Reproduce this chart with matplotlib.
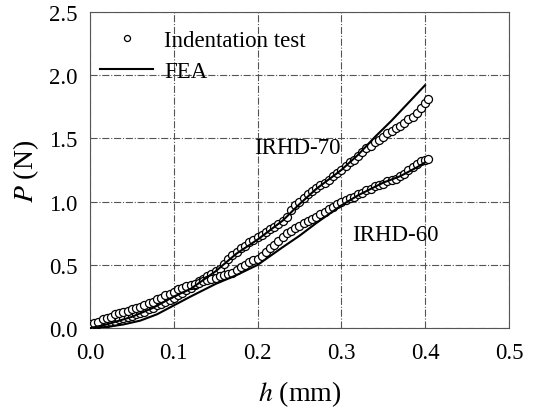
import numpy as np
import matplotlib
matplotlib.use('Agg')
import matplotlib.pyplot as plt

plt.rcParams['font.family'] = ['Liberation Serif', 'DejaVu Serif']
plt.rcParams['mathtext.fontset'] = 'stix'

# Indentation test data (h in mm, P in N)
h_exp = [0.000, 0.005, 0.010, 0.015, 0.020, 0.025, 0.030, 0.035, 0.040, 0.045,
         0.050, 0.055, 0.060, 0.065, 0.070, 0.075, 0.080, 0.085, 0.090, 0.095,
         0.100, 0.105, 0.110, 0.115, 0.120, 0.125, 0.130, 0.135, 0.140, 0.145,
         0.150, 0.155, 0.160, 0.165, 0.170, 0.175, 0.180, 0.185, 0.190, 0.195,
         0.200, 0.205, 0.210, 0.215, 0.220, 0.225, 0.230, 0.235, 0.240, 0.245,
         0.250, 0.255, 0.260, 0.265, 0.270, 0.275, 0.280, 0.285, 0.290, 0.295,
         0.300, 0.305, 0.310, 0.315, 0.320, 0.325, 0.330, 0.335, 0.340, 0.345,
         0.350, 0.355, 0.360, 0.365, 0.370, 0.375, 0.380, 0.385, 0.390, 0.395,
         0.400, 0.403]
p_exp_70 = [0.02, 0.03, 0.035, 0.04, 0.045, 0.05, 0.06, 0.07, 0.08, 0.09,
            0.10, 0.11, 0.12, 0.13, 0.15, 0.16, 0.18, 0.19, 0.21, 0.22,
            0.24, 0.26, 0.28, 0.30, 0.32, 0.34, 0.37, 0.39, 0.41, 0.43,
            0.45, 0.47, 0.51, 0.55, 0.58, 0.60, 0.63, 0.65, 0.68, 0.70,
            0.72, 0.74, 0.76, 0.78, 0.80, 0.82, 0.85, 0.88, 0.93, 0.97,
            1.00, 1.03, 1.06, 1.08, 1.11, 1.13, 1.15, 1.17, 1.20, 1.23,
            1.25, 1.28, 1.31, 1.33, 1.36, 1.39, 1.42, 1.44, 1.47, 1.49,
            1.51, 1.54, 1.56, 1.58, 1.60, 1.62, 1.65, 1.67, 1.70, 1.74,
            1.78, 1.81]
p_exp_60 = [0.03, 0.04, 0.05, 0.07, 0.08, 0.09, 0.11, 0.12, 0.13, 0.14,
            0.15, 0.16, 0.17, 0.18, 0.20, 0.21, 0.23, 0.24, 0.26, 0.27,
            0.29, 0.31, 0.32, 0.33, 0.34, 0.35, 0.36, 0.37, 0.38, 0.39,
            0.40, 0.41, 0.42, 0.43, 0.44, 0.46, 0.48, 0.50, 0.52, 0.54,
            0.55, 0.57, 0.60, 0.63, 0.66, 0.69, 0.72, 0.75, 0.77, 0.79,
            0.81, 0.83, 0.85, 0.86, 0.88, 0.90, 0.92, 0.94, 0.96, 0.98,
            1.00, 1.01, 1.03, 1.04, 1.06, 1.07, 1.09, 1.10, 1.12, 1.13,
            1.14, 1.16, 1.17, 1.18, 1.20, 1.22, 1.25, 1.27, 1.30, 1.32,
            1.33, 1.34]

# FEA curves
h_fea_70 = [0.0, 0.02, 0.05, 0.075, 0.1, 0.12, 0.15, 0.175, 0.2, 0.23, 0.25,
            0.27, 0.3, 0.32, 0.34, 0.36, 0.38, 0.4]
p_fea_70 = [0.0, 0.03, 0.09, 0.16, 0.25, 0.31, 0.45, 0.59, 0.70, 0.85, 0.98,
            1.10, 1.25, 1.37, 1.51, 1.64, 1.78, 1.92]
h_fea_60 = [0.0, 0.02, 0.04, 0.06, 0.08, 0.1, 0.12, 0.15, 0.175, 0.2, 0.23,
            0.25, 0.27, 0.3, 0.32, 0.35, 0.37, 0.39, 0.4]
p_fea_60 = [0.0, 0.01, 0.03, 0.06, 0.11, 0.18, 0.25, 0.35, 0.42, 0.50, 0.64,
            0.73, 0.83, 0.97, 1.05, 1.15, 1.20, 1.27, 1.31]

fig = plt.figure(figsize=(5.34, 4.10), dpi=100)
ax = fig.add_axes([0.1685, 0.197, 0.7845, 0.772])

ax.plot(h_exp, p_exp_70, 'o', mfc='white', mec='black', ms=5.8, mew=0.9,
        label='Indentation test', zorder=3)
ax.plot(h_exp, p_exp_60, 'o', mfc='white', mec='black', ms=5.8, mew=0.9, zorder=3)
ax.plot(h_fea_70, p_fea_70, '-', color='black', lw=1.5, label='FEA', zorder=4)
ax.plot(h_fea_60, p_fea_60, '-', color='black', lw=1.5, zorder=4)

ax.text(0.247, 1.43, 'IRHD-70', fontsize=16.5, ha='center', va='center')
ax.text(0.364, 0.74, 'IRHD-60', fontsize=16.5, ha='center', va='center')

ax.set_xlim(0, 0.5)
ax.set_ylim(0, 2.5)
ax.set_xticks(np.arange(0, 0.51, 0.1))
ax.set_yticks(np.arange(0, 2.51, 0.5))
ax.xaxis.set_major_formatter(matplotlib.ticker.FormatStrFormatter('%.1f'))
ax.yaxis.set_major_formatter(matplotlib.ticker.FormatStrFormatter('%.1f'))
ax.tick_params(length=0, labelsize=16.5)
ax.tick_params(axis='x', pad=10)
ax.tick_params(axis='y', pad=9)
ax.grid(True, color='#555555', linestyle='-.', linewidth=0.8)
for s in ax.spines.values():
    s.set_color('#555555')
    s.set_linewidth(0.8)

ax.set_xlabel('$\\mathit{h}$ (mm)', fontsize=20, labelpad=11)
ax.set_ylabel('$\\mathit{P}$ (N)', fontsize=20, labelpad=6)

leg = ax.legend(loc='upper left', bbox_to_anchor=(0.0, 0.975), frameon=False,
                fontsize=16.5, handlelength=2.3, borderaxespad=0.05,
                handletextpad=0.5, labelspacing=0.45, markerscale=0.75)

fig.savefig('out.png', dpi=100)
